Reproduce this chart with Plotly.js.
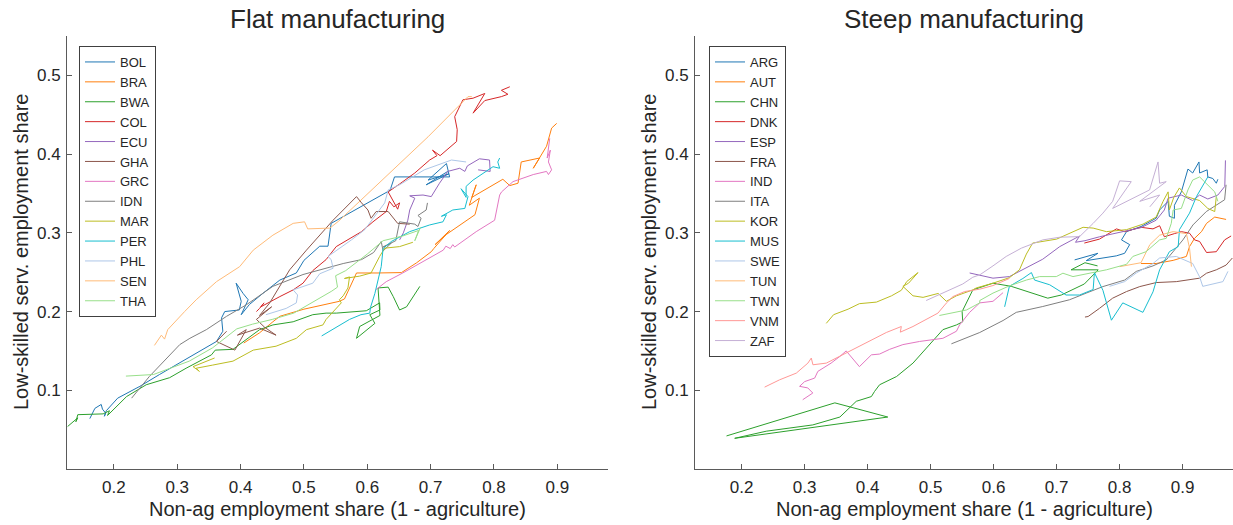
<!DOCTYPE html>
<html>
<head>
<meta charset="utf-8">
<script src="https://cdn.plot.ly/plotly-3.0.1.min.js"></script>
<style>html,body{margin:0;padding:0;background:#fff;}#chart{width:1233px;height:525px;}</style>
</head>
<body>
<div id="chart"></div>
<script>
// ---------- categories ----------
const leftCountries  = ['BOL','BRA','BWA','COL','ECU','GHA','GRC','IDN','MAR','PER','PHL','SEN','THA'];
const rightCountries = ['ARG','AUT','CHN','DNK','ESP','FRA','IND','ITA','KOR','MUS','SWE','TUN','TWN','VNM','ZAF'];
const palette = ['#1f77b4','#ff7f0e','#2ca02c','#d62728','#9467bd','#8c564b','#e377c2','#7f7f7f','#bcbd22','#17becf','#aec7e8','#ffbb78','#98df8a','#ff9896','#c5b0d5'];

// ---------- tick labels ----------
const xTickVals = [0.2,0.3,0.4,0.5,0.6,0.7,0.8,0.9];
const xTickText = ['0.2','0.3','0.4','0.5','0.6','0.7','0.8','0.9'];
const yTickVals = [0.1,0.2,0.3,0.4,0.5];
const yTickText = ['0.1','0.2','0.3','0.4','0.5'];

// ---------- Flat manufacturing: [non-ag share, low-skilled serv. share] ----------
const BOL = [[0.162,0.064],[0.17,0.077],[0.18,0.082],[0.182,0.076],[0.187,0.071],[0.185,0.067],[0.188,0.074],[0.206,0.09],[0.241,0.105],[0.272,0.12],[0.325,0.145],[0.362,0.162],[0.372,0.175],[0.370,0.192],[0.375,0.2],[0.398,0.202],[0.401,0.213],[0.393,0.236],[0.404,0.223],[0.412,0.215],[0.401,0.196],[0.414,0.209],[0.435,0.223],[0.462,0.24],[0.488,0.249],[0.50,0.265],[0.525,0.283],[0.538,0.283],[0.543,0.312],[0.585,0.331],[0.636,0.354],[0.643,0.371],[0.730,0.371],[0.725,0.388],[0.696,0.367],[0.729,0.375],[0.693,0.361],[0.727,0.378]];
const BRA = [[0.405,0.16],[0.43,0.173],[0.451,0.187],[0.462,0.194],[0.50,0.203],[0.556,0.213],[0.564,0.216],[0.58,0.244],[0.583,0.249],[0.617,0.249],[0.654,0.2495],[0.678,0.262],[0.701,0.276],[0.705,0.28],[0.72,0.293],[0.73,0.303],[0.707,0.285],[0.725,0.298],[0.77,0.323],[0.777,0.344],[0.761,0.335],[0.772,0.361],[0.765,0.345],[0.814,0.368],[0.825,0.36],[0.838,0.363],[0.843,0.39],[0.872,0.395],[0.862,0.382],[0.883,0.41],[0.891,0.433],[0.899,0.439]];
const BWA = [[0.127,0.054],[0.135,0.06],[0.143,0.065],[0.14,0.06],[0.143,0.069],[0.183,0.07],[0.193,0.074],[0.190,0.068],[0.22,0.092],[0.251,0.107],[0.288,0.116],[0.314,0.128],[0.354,0.145],[0.36,0.151],[0.388,0.152],[0.43,0.177],[0.451,0.183],[0.483,0.187],[0.514,0.196],[0.535,0.198],[0.551,0.198],[0.5985,0.201],[0.6195,0.211],[0.62,0.202],[0.604,0.196],[0.612,0.185],[0.583,0.166],[0.588,0.181],[0.62,0.195],[0.617,0.23],[0.633,0.231],[0.641,0.219],[0.651,0.202],[0.662,0.206],[0.683,0.232]];
const COL = [[0.425,0.2],[0.43,0.204],[0.437,0.211],[0.432,0.206],[0.462,0.219],[0.483,0.2275],[0.4985,0.236],[0.514,0.252],[0.535,0.266],[0.551,0.2825],[0.591,0.3015],[0.609,0.314],[0.630,0.327],[0.635,0.34],[0.642,0.333],[0.651,0.338],[0.648,0.33],[0.633,0.352],[0.651,0.362],[0.675,0.376],[0.6985,0.3925],[0.71,0.398],[0.703,0.405],[0.715,0.398],[0.741,0.416],[0.742,0.431],[0.738,0.4475],[0.751,0.469],[0.767,0.471],[0.7855,0.477],[0.767,0.452],[0.7855,0.468],[0.8117,0.473],[0.822,0.476],[0.8117,0.481],[0.825,0.4855]];
const ECU = [[0.651,0.291],[0.657,0.30],[0.664,0.316],[0.667,0.329],[0.675,0.344],[0.667,0.347],[0.688,0.348],[0.701,0.346],[0.714,0.363],[0.727,0.378],[0.746,0.382],[0.754,0.378],[0.758,0.385],[0.777,0.394],[0.793,0.3925],[0.794,0.378],[0.775,0.38]];
const GHA = [[0.378,0.175],[0.362,0.162],[0.391,0.151],[0.409,0.177],[0.395,0.17],[0.43,0.179],[0.456,0.17],[0.438,0.18],[0.425,0.19],[0.449,0.206],[0.43,0.195],[0.446,0.211],[0.4775,0.253],[0.504,0.278],[0.546,0.316],[0.583,0.346],[0.591,0.338],[0.601,0.329],[0.606,0.3185],[0.614,0.327],[0.633,0.327],[0.643,0.316],[0.648,0.312],[0.667,0.311]];
const GRC = [[0.614,0.228],[0.63,0.238],[0.656,0.249],[0.693,0.266],[0.72,0.278],[0.724,0.283],[0.731,0.28],[0.735,0.285],[0.738,0.282],[0.772,0.3015],[0.801,0.316],[0.809,0.348],[0.812,0.352],[0.830,0.365],[0.862,0.374],[0.883,0.378],[0.886,0.374],[0.891,0.38],[0.886,0.39],[0.889,0.405],[0.884,0.395],[0.888,0.42]];
const IDN = [[0.228,0.09],[0.256,0.1175],[0.304,0.158],[0.32,0.166],[0.346,0.177],[0.378,0.194],[0.409,0.2085],[0.451,0.232],[0.4985,0.247],[0.562,0.261],[0.591,0.266],[0.61,0.275],[0.622,0.289],[0.625,0.277],[0.638,0.287],[0.625,0.282],[0.645,0.29],[0.651,0.314],[0.675,0.311],[0.68,0.308],[0.685,0.3185],[0.68,0.322],[0.693,0.329],[0.695,0.338]];
const MAR = [[0.359,0.141],[0.325,0.13],[0.335,0.124],[0.33,0.128],[0.356,0.132],[0.388,0.137],[0.42,0.151],[0.456,0.156],[0.488,0.166],[0.504,0.177],[0.53,0.183],[0.535,0.19],[0.559,0.211],[0.556,0.215],[0.562,0.22],[0.5695,0.23],[0.572,0.244],[0.564,0.242],[0.588,0.245],[0.606,0.249],[0.6195,0.27],[0.6275,0.2805],[0.651,0.2825],[0.672,0.288]];
const PER = [[0.528,0.169],[0.55,0.18],[0.572,0.19],[0.59,0.196],[0.604,0.198],[0.605,0.205],[0.612,0.223],[0.622,0.257],[0.625,0.28],[0.638,0.289],[0.667,0.3015],[0.6985,0.31],[0.7195,0.314],[0.725,0.323],[0.717,0.321],[0.735,0.329],[0.754,0.331],[0.759,0.346],[0.748,0.356],[0.756,0.345],[0.756,0.359],[0.767,0.367],[0.7985,0.384],[0.809,0.382],[0.806,0.39],[0.809,0.395]];
const PHL = [[0.44,0.196],[0.455,0.2],[0.472,0.204],[0.488,0.211],[0.49,0.221],[0.483,0.2275],[0.514,0.236],[0.525,0.248],[0.546,0.255],[0.543,0.266],[0.538,0.27],[0.575,0.291],[0.596,0.304],[0.6275,0.338],[0.633,0.3545],[0.651,0.361],[0.69,0.38],[0.733,0.3925],[0.756,0.39]];
const SEN = [[0.264,0.157],[0.27,0.165],[0.275,0.17],[0.28,0.165],[0.285,0.177],[0.3117,0.2],[0.33,0.215],[0.362,0.238],[0.3985,0.257],[0.42,0.278],[0.451,0.297],[0.483,0.312],[0.501,0.314],[0.506,0.305],[0.541,0.306],[0.555,0.315],[0.696,0.422],[0.759,0.473],[0.765,0.473]];
const THA = [[0.219,0.118],[0.2625,0.12],[0.319,0.137],[0.356,0.154],[0.394,0.178],[0.419,0.184],[0.45,0.19],[0.484,0.198],[0.544,0.226],[0.553,0.231],[0.55,0.2455],[0.566,0.252],[0.6,0.273],[0.625,0.29],[0.656,0.296],[0.681,0.303],[0.675,0.29],[0.684,0.307]];

// ---------- Steep manufacturing ----------
const ARG = [[0.7286,0.2656],[0.7656,0.274],[0.7471,0.2647],[0.7947,0.2707],[0.808,0.274],[0.816,0.285],[0.803,0.291],[0.811,0.3015],[0.834,0.308],[0.858,0.3185],[0.8635,0.329],[0.877,0.34],[0.879,0.321],[0.887,0.3185],[0.887,0.335],[0.898,0.352],[0.9085,0.381],[0.916,0.376],[0.926,0.39],[0.927,0.376],[0.939,0.38],[0.94,0.371],[0.948,0.369],[0.9535,0.363],[0.956,0.368]];
const AUT = [[0.834,0.261],[0.858,0.261],[0.885,0.265],[0.906,0.27],[0.911,0.2825],[0.919,0.293],[0.93,0.3015],[0.938,0.312],[0.951,0.32],[0.959,0.3185],[0.969,0.317]];
const CHN = [[0.176,0.042],[0.348,0.084],[0.432,0.066],[0.189,0.039],[0.239,0.048],[0.313,0.056],[0.356,0.066],[0.382,0.086],[0.406,0.092],[0.411,0.0985],[0.419,0.107],[0.446,0.1175],[0.472,0.1345],[0.504,0.164],[0.5195,0.177],[0.541,0.183],[0.551,0.187],[0.55,0.2],[0.567,0.2275],[0.599,0.236],[0.628,0.232],[0.686,0.217],[0.7075,0.221],[0.744,0.235],[0.766,0.253],[0.723,0.253],[0.745,0.262],[0.765,0.258]];
const DNK = [[0.744,0.287],[0.768,0.292],[0.795,0.305],[0.808,0.3015],[0.834,0.307],[0.853,0.305],[0.8635,0.309],[0.871,0.295],[0.887,0.299],[0.898,0.3015],[0.911,0.2995],[0.919,0.291],[0.927,0.289],[0.938,0.275],[0.9535,0.276],[0.9667,0.291],[0.977,0.296]];
const ESP = [[0.562,0.249],[0.599,0.2424],[0.625,0.2444],[0.641,0.251],[0.678,0.2665],[0.705,0.2825],[0.726,0.292],[0.7365,0.296],[0.73,0.288],[0.745,0.29],[0.7683,0.295],[0.795,0.300],[0.834,0.3066],[0.858,0.316],[0.871,0.329],[0.877,0.344],[0.898,0.348],[0.916,0.341],[0.927,0.348],[0.94,0.343],[0.956,0.348],[0.967,0.359],[0.968,0.392]];
const FRA = [[0.745,0.193],[0.75,0.1937],[0.768,0.204],[0.789,0.217],[0.811,0.2254],[0.832,0.2317],[0.858,0.2368],[0.89,0.238],[0.927,0.2424],[0.938,0.2487],[0.9535,0.253],[0.969,0.259],[0.979,0.268]];
const IND = [[0.297,0.088],[0.313,0.0965],[0.305,0.103],[0.292,0.105],[0.300,0.111],[0.316,0.1155],[0.321,0.124],[0.342,0.1345],[0.356,0.143],[0.366,0.15],[0.387,0.13],[0.406,0.145],[0.419,0.146],[0.435,0.152],[0.456,0.158],[0.4825,0.162],[0.5195,0.166],[0.541,0.175],[0.546,0.183],[0.562,0.199],[0.578,0.211],[0.599,0.213],[0.615,0.224]];
const ITA = [[0.533,0.159],[0.562,0.168],[0.578,0.1734],[0.615,0.1886],[0.636,0.199],[0.678,0.2064],[0.7206,0.215],[0.747,0.2234],[0.7735,0.2317],[0.808,0.24],[0.8265,0.251],[0.853,0.258],[0.874,0.2656],[0.9005,0.291],[0.9164,0.31],[0.9376,0.327],[0.9535,0.3354],[0.9667,0.342],[0.969,0.361]];
const KOR = [[0.3344,0.185],[0.346,0.196],[0.369,0.203],[0.387,0.21],[0.414,0.212],[0.438,0.22],[0.4535,0.227],[0.462,0.238],[0.48,0.2495],[0.465,0.236],[0.456,0.232],[0.472,0.22],[0.488,0.218],[0.512,0.223],[0.525,0.213],[0.541,0.22],[0.567,0.2275],[0.5725,0.23],[0.599,0.236],[0.625,0.243],[0.641,0.253],[0.652,0.273],[0.662,0.287],[0.70,0.292],[0.742,0.307],[0.758,0.306],[0.779,0.3015],[0.811,0.304],[0.837,0.311],[0.858,0.32],[0.869,0.34],[0.877,0.352],[0.879,0.329],[0.886,0.345],[0.895,0.357],[0.906,0.346],[0.927,0.341],[0.94,0.331],[0.951,0.327],[0.9535,0.346]];
const MUS = [[0.6175,0.206],[0.625,0.232],[0.6465,0.242],[0.66,0.2495],[0.665,0.24],[0.689,0.234],[0.715,0.221],[0.7365,0.221],[0.758,0.228],[0.760,0.2495],[0.7735,0.227],[0.787,0.189],[0.805,0.211],[0.837,0.199],[0.853,0.225],[0.8635,0.253],[0.879,0.276],[0.893,0.2825],[0.895,0.304],[0.911,0.325],[0.922,0.346],[0.93,0.357],[0.94,0.371]];
const SWE = [[0.784,0.232],[0.808,0.238],[0.8265,0.249],[0.853,0.261],[0.8635,0.268],[0.89,0.27],[0.916,0.261],[0.927,0.244],[0.932,0.232],[0.948,0.235],[0.964,0.238],[0.972,0.251]];
const TUN = [[0.80,0.257],[0.834,0.262],[0.848,0.285],[0.8635,0.297],[0.885,0.3015],[0.906,0.299],[0.911,0.2805],[0.914,0.257]];
const TWN = [[0.514,0.195],[0.535,0.198],[0.557,0.202],[0.578,0.211],[0.578,0.214],[0.599,0.2234],[0.625,0.2326],[0.652,0.24],[0.673,0.2444],[0.6995,0.2444],[0.71,0.2487],[0.726,0.2444],[0.779,0.253],[0.811,0.26],[0.821,0.27],[0.842,0.276],[0.8635,0.291],[0.874,0.293],[0.882,0.312],[0.885,0.329],[0.898,0.331],[0.9085,0.3545],[0.916,0.367],[0.927,0.371],[0.94,0.361],[0.951,0.352],[0.956,0.34]];
const VNM = [[0.2365,0.104],[0.2603,0.1133],[0.2868,0.1218],[0.3052,0.1345],[0.3106,0.1409],[0.3132,0.1324],[0.3344,0.1345],[0.3608,0.145],[0.382,0.1536],[0.4084,0.164],[0.4297,0.1734],[0.4535,0.181],[0.4519,0.1738],[0.472,0.181],[0.4957,0.1916],[0.5116,0.198],[0.5249,0.2107],[0.5354,0.219],[0.554,0.2254],[0.5778,0.2284],[0.599,0.233],[0.625,0.242]];
const ZAF = [[0.493,0.214],[0.525,0.2254],[0.551,0.235],[0.567,0.2436],[0.578,0.2466],[0.599,0.258],[0.62,0.27],[0.644,0.2805],[0.678,0.291],[0.705,0.2944],[0.7365,0.2952],[0.758,0.312],[0.7735,0.325],[0.789,0.34],[0.80,0.366],[0.8185,0.365],[0.789,0.331],[0.8476,0.3545],[0.861,0.39],[0.8635,0.363],[0.874,0.365],[0.832,0.34],[0.8635,0.348],[0.848,0.333]];

const leftData  = {BOL,BRA,BWA,COL,ECU,GHA,GRC,IDN,MAR,PER,PHL,SEN,THA};
const rightData = {ARG,AUT,CHN,DNK,ESP,FRA,IND,ITA,KOR,MUS,SWE,TUN,TWN,VNM,ZAF};

// ---------- build traces ----------
function makeTraces(names, dataMap, xa, ya, legendId) {
  return names.map((name, i) => ({
    type: 'scatter', mode: 'lines', name: name,
    x: dataMap[name].map(p => p[0]),
    y: dataMap[name].map(p => p[1]),
    xaxis: xa, yaxis: ya, legend: legendId,
    line: {color: palette[i], width: 1},
    hoverinfo: 'name+x+y'
  }));
}
const traces = makeTraces(leftCountries, leftData, 'x', 'y', 'legend')
  .concat(makeTraces(rightCountries, rightData, 'x2', 'y2', 'legend2'));

const W = 1233, H = 525;
const axisCol = '#5a5a5a';
const txtCol = '#262626';
const FONT = 'Liberation Sans, Arial, Helvetica, sans-serif';
const yDom = [1 - 469/H, 1 - 36/H];

function xAxis(dom, anchor) {
  return {domain: dom, anchor: anchor, range: [0.126, 0.98],
    tickvals: xTickVals, ticktext: xTickText, ticks: 'inside', ticklen: 5, tickwidth: 1,
    tickcolor: axisCol, showline: true, linecolor: axisCol, linewidth: 1,
    showgrid: false, zeroline: false, mirror: false,
    tickfont: {size: 17, color: txtCol}, ticklabelstandoff: 3};
}
function yAxis(anchor) {
  return {domain: yDom, anchor: anchor, range: [0, 0.55],
    tickvals: yTickVals, ticktext: yTickText, ticks: 'inside', ticklen: 5, tickwidth: 1,
    tickcolor: axisCol, showline: true, linecolor: axisCol, linewidth: 1,
    showgrid: false, zeroline: false, mirror: false,
    tickfont: {size: 17, color: txtCol}, ticklabelstandoff: 2};
}

const legendCommon = {xanchor: 'left', yanchor: 'top', bgcolor: '#ffffff',
  bordercolor: '#404040', borderwidth: 1, font: {size: 13, color: txtCol, family: FONT},
  tracegroupgap: 0, itemwidth: 30};

const layout = {
  width: W, height: H,
  margin: {l: 0, r: 0, t: 0, b: 0, pad: 0},
  paper_bgcolor: '#ffffff', plot_bgcolor: '#ffffff',
  font: {family: FONT, color: txtCol},
  showlegend: true,
  xaxis: xAxis([67/W, 608/W], 'y'),
  yaxis: yAxis('x'),
  xaxis2: xAxis([695/W, 1], 'y2'),
  yaxis2: yAxis('x2'),
  legend: Object.assign({x: 79/W, y: 1 - 46/H}, legendCommon),
  legend2: Object.assign({x: 709/W, y: 1 - 46/H}, legendCommon),
  annotations: [
    {text: 'Flat manufacturing', xref: 'x domain', x: 0.5, yref: 'paper', y: 1 - 19/H,
     xanchor: 'center', yanchor: 'middle', showarrow: false, font: {size: 26, color: txtCol}},
    {text: 'Steep manufacturing', xref: 'x2 domain', x: 0.5, yref: 'paper', y: 1 - 19/H,
     xanchor: 'center', yanchor: 'middle', showarrow: false, font: {size: 26, color: txtCol}},
    {text: 'Non-ag employment share (1 - agriculture)', xref: 'x domain', x: 0.5, yref: 'paper', y: 1 - 509/H,
     xanchor: 'center', yanchor: 'middle', showarrow: false, font: {size: 20, color: txtCol}},
    {text: 'Non-ag employment share (1 - agriculture)', xref: 'x2 domain', x: 0.5, yref: 'paper', y: 1 - 509/H,
     xanchor: 'center', yanchor: 'middle', showarrow: false, font: {size: 20, color: txtCol}},
    {text: 'Low-skilled serv. employment share', xref: 'paper', x: 21/W, yref: 'paper', y: 1 - 252/H,
     xanchor: 'center', yanchor: 'middle', textangle: -90, showarrow: false, font: {size: 20, color: txtCol}},
    {text: 'Low-skilled serv. employment share', xref: 'paper', x: 649/W, yref: 'paper', y: 1 - 252/H,
     xanchor: 'center', yanchor: 'middle', textangle: -90, showarrow: false, font: {size: 20, color: txtCol}}
  ]
};

Plotly.newPlot('chart', traces, layout, {displayModeBar: false, staticPlot: true});
</script>
</body>
</html>
